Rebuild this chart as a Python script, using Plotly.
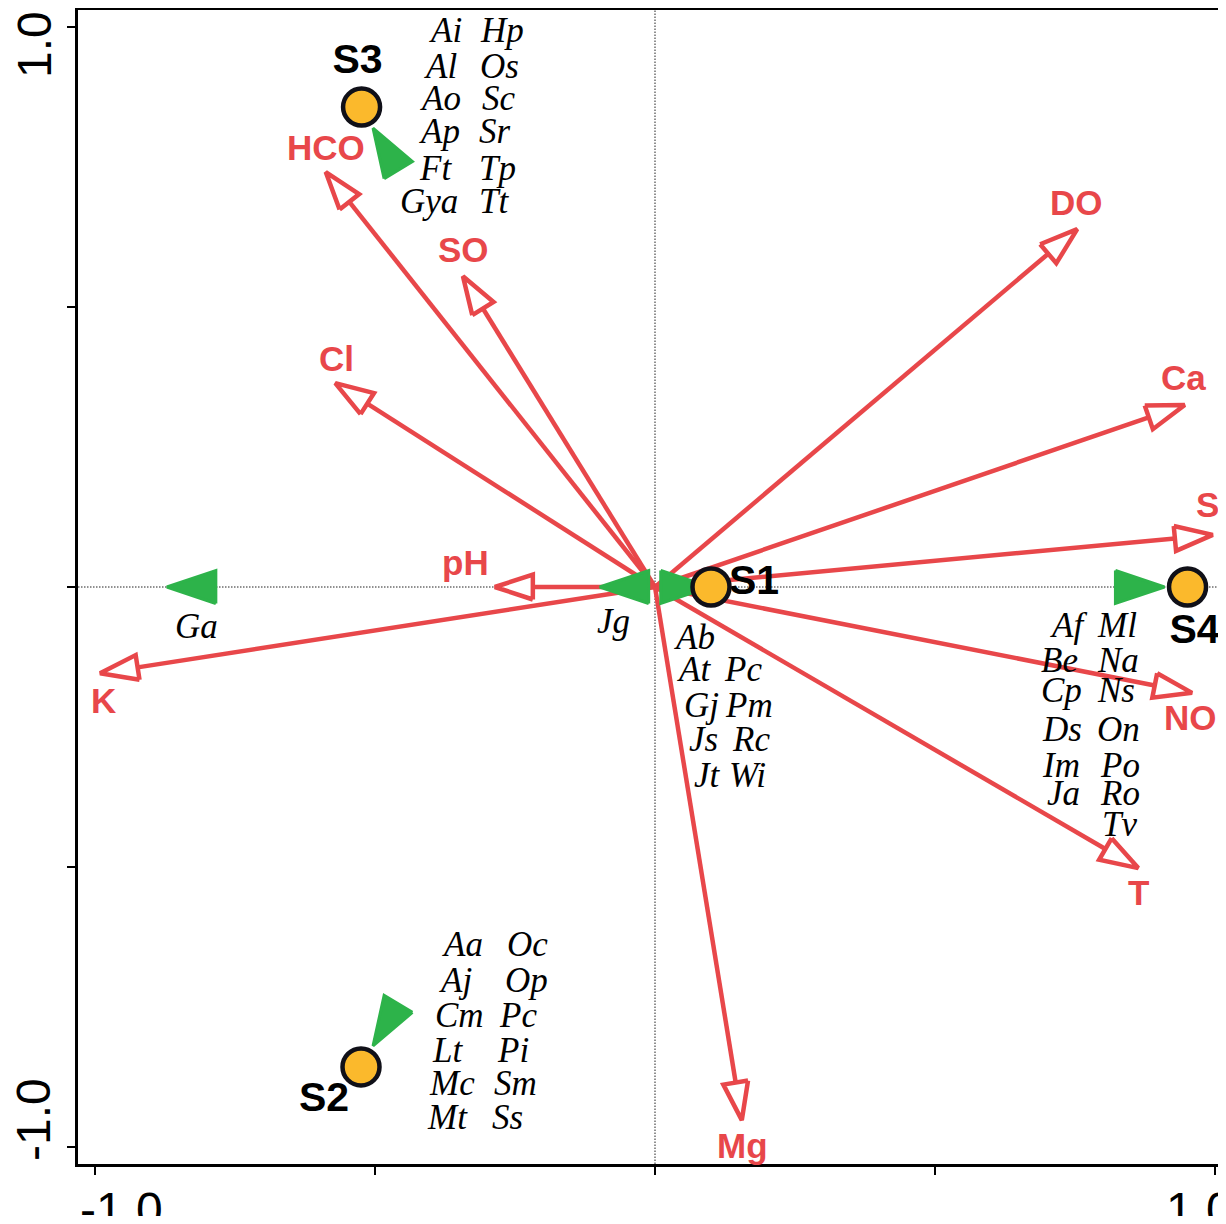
import numpy as np
import plotly.graph_objects as go

# ---------------- data ----------------
# environmental variables (biplot arrow tips)
env_names = ["HCO", "SO", "Cl", "pH", "K", "DO", "Ca", "S", "NO", "T", "Mg"]
env_x = [-0.588, -0.343, -0.571, -0.286, -0.991, 0.754, 0.946, 0.996, 0.959, 0.863, 0.155]
env_y = [0.741, 0.555, 0.364, 0.000, -0.154, 0.639, 0.325, 0.093, -0.189, -0.502, -0.952]

# sites
site_names = ["S1", "S2", "S3", "S4"]
site_x = [0.100, -0.525, -0.524, 0.951]
site_y = [0.000, -0.857, 0.857, 0.000]

# taxon-group markers (green triangles): centre and pointing direction (deg)
tri_x = [-0.828, -0.055, 0.054, 0.866, -0.481, -0.481]
tri_y = [0.000, 0.000, 0.000, 0.000, 0.782, -0.782]
tri_angle = [180, 180, 0, 0, 121, -121]

# species labels (italic), per group: left column, right column, row y
s3_left = ["Ai", "Al", "Ao", "Ap", "Ft", "Gya"]
s3_left_x = [-0.407, -0.416, -0.423, -0.425, -0.425, -0.459]
s3_right = ["Hp", "Os", "Sc", "Sr", "Tp", "Tt"]
s3_right_x = [-0.316, -0.316, -0.313, -0.318, -0.318, -0.318]
s3_row_y = [0.993, 0.930, 0.873, 0.814, 0.748, 0.689]

s1_left = ["Ab", "At", "Gj", "Js", "Jt"]
s1_left_x = [0.030, 0.036, 0.048, 0.057, 0.066]
s1_left_y = [-0.091, -0.148, -0.211, -0.273, -0.336]
s1_right = ["Pc", "Pm", "Rc", "Wi"]
s1_right_x = [0.120, 0.121, 0.134, 0.129]
s1_right_y = [-0.148, -0.211, -0.273, -0.336]

s4_left = ["Af", "Be", "Cp", "Ds", "Im", "Ja"]
s4_left_x = [0.702, 0.686, 0.686, 0.688, 0.688, 0.696]
s4_left_y = [-0.068, -0.132, -0.184, -0.255, -0.318, -0.368]
s4_right = ["Ml", "Na", "Ns", "On", "Po", "Ro", "Tv"]
s4_right_x = [0.786, 0.786, 0.786, 0.786, 0.791, 0.791, 0.795]
s4_right_y = [-0.068, -0.132, -0.184, -0.255, -0.318, -0.368, -0.425]

s2_left = ["Aa", "Aj", "Cm", "Lt", "Mc", "Mt"]
s2_left_x = [-0.384, -0.389, -0.396, -0.402, -0.407, -0.411]
s2_right = ["Oc", "Op", "Pc", "Pi", "Sm", "Ss"]
s2_right_x = [-0.268, -0.271, -0.282, -0.286, -0.291, -0.295]
s2_row_y = [-0.639, -0.702, -0.766, -0.827, -0.886, -0.948]

single_names = ["Ga", "Jg"]
single_x = [-0.861, -0.107]
single_y = [-0.070, -0.061]

tick_vals = [-1.0, -0.5, 0.0, 0.5, 1.0]
tick_text_x = ["-1.0", "1.0"]
tick_text_y = ["1.0", "-1.0"]

# ---------------- styles / label placement ----------------
RED = "#E8474A"
GREEN = "#2DB34A"
ORANGE = "#FBB92C"
PX = 560.0  # pixels per data unit (both axes)

env_label_dx = [0, 1, 1, -29, 3, -1, -1, -5, -2, 0, 1]
env_label_dy = [25, 27, 25, 25, -27, 27, 28, 30, -25, -24, -25]
site_label_dx = [43, -37, -4, 7]
site_label_dy = [3, -34, 44, -46]

fig = go.Figure()

# arrow shafts and open heads
HL, HW = 38 / PX, 12.5 / PX
shaft_x, shaft_y, head_x, head_y = [], [], [], []
for xt, yt in zip(env_x, env_y):
    a = np.arctan2(yt, xt)
    ux, uy = np.cos(a), np.sin(a)
    bx, by = xt - HL * ux, yt - HL * uy
    nx, ny = -uy, ux
    shaft_x += [0, bx, None]
    shaft_y += [0, by, None]
    head_x += [bx + HW * nx, xt, bx - HW * nx, bx + HW * nx, None]
    head_y += [by + HW * ny, yt, by - HW * ny, by + HW * ny, None]

fig.add_trace(go.Scatter(x=shaft_x, y=shaft_y, mode="lines",
                         line=dict(color=RED, width=4.5), hoverinfo="skip", showlegend=False))
fig.add_trace(go.Scatter(x=head_x, y=head_y, mode="lines", fill="toself", fillcolor="white",
                         line=dict(color=RED, width=4.5), hoverinfo="skip", showlegend=False))

# green triangles
TL, TW = 49 / PX, 16.5 / PX
tx, ty = [], []
for cx, cy, deg in zip(tri_x, tri_y, tri_angle):
    a = np.radians(deg)
    ux, uy = np.cos(a), np.sin(a)
    nx, ny = -uy, ux
    axp, ayp = cx + TL / 2 * ux, cy + TL / 2 * uy
    bx, by = cx - TL / 2 * ux, cy - TL / 2 * uy
    tx += [bx + TW * nx, axp, bx - TW * nx, bx + TW * nx, None]
    ty += [by + TW * ny, ayp, by - TW * ny, by + TW * ny, None]
fig.add_trace(go.Scatter(x=tx, y=ty, mode="lines", fill="toself", fillcolor=GREEN,
                         line=dict(color=GREEN, width=3), hoverinfo="skip", showlegend=False))

# site labels (under circles)
fig.add_trace(go.Scatter(
    x=[sx + dx / PX for sx, dx in zip(site_x, site_label_dx)],
    y=[sy + dy / PX for sy, dy in zip(site_y, site_label_dy)],
    mode="text", text=site_names, textposition="middle center",
    textfont=dict(family="Liberation Sans, Arial", size=41, color="black", weight="bold"),
    hoverinfo="skip", showlegend=False))

# site circles
fig.add_trace(go.Scatter(x=site_x, y=site_y, mode="markers",
                         marker=dict(size=37, color=ORANGE, line=dict(color="#101018", width=4.5)),
                         hoverinfo="skip", showlegend=False))

annotations = []
# environmental labels
for name, xt, yt, dx, dy in zip(env_names, env_x, env_y, env_label_dx, env_label_dy):
    annotations.append(dict(x=xt, y=yt, xref="x", yref="y", text=name, showarrow=False,
                            xshift=dx, yshift=dy, xanchor="center", yanchor="middle",
                            font=dict(family="Liberation Sans, Arial", size=35, color=RED, weight="bold")))

SPFONT = dict(family="Liberation Serif, Times New Roman", size=35, color="black", style="italic")


def add_sp(names, xs, ys):
    for n, x, y in zip(names, xs, ys):
        annotations.append(dict(x=x, y=y, xref="x", yref="y", text=n, showarrow=False,
                                xanchor="left", yanchor="middle", font=SPFONT))


add_sp(s3_left, s3_left_x, s3_row_y)
add_sp(s3_right, s3_right_x, s3_row_y)
add_sp(s1_left, s1_left_x, s1_left_y)
add_sp(s1_right, s1_right_x, s1_right_y)
add_sp(s4_left, s4_left_x, s4_left_y)
add_sp(s4_right, s4_right_x, s4_right_y)
add_sp(s2_left, s2_left_x, s2_row_y)
add_sp(s2_right, s2_right_x, s2_row_y)
add_sp(single_names, single_x, single_y)

# tick labels (placed by hand to follow the reference's offsets)
TKFONT = dict(family="Liberation Sans, Arial", size=48, color="black")
for txt, xv, xs in zip(tick_text_x, [-1.0, 1.0], [26, -15]):
    annotations.append(dict(x=xv, y=0, xref="x", yref="paper", text=txt, showarrow=False,
                            xanchor="center", yanchor="middle",
                            xshift=xs, yshift=-45, font=TKFONT))
for txt, yv, ys in zip(tick_text_y, [1.0, -1.0], [-18, 27]):
    annotations.append(dict(x=0, y=yv, xref="paper", yref="y", text=txt, showarrow=False,
                            xanchor="center", yanchor="middle",
                            xshift=-44, yshift=ys, textangle=-90, font=TKFONT))

shapes = [
    dict(type="line", xref="paper", yref="y", x0=0, x1=1, y0=0, y1=0,
         line=dict(color="#222222", width=1, dash="1.5px,1.5px"), layer="below"),
    dict(type="line", xref="x", yref="paper", x0=0, x1=0, y0=0, y1=1,
         line=dict(color="#222222", width=1, dash="1.5px,1.5px"), layer="below"),
]

axis_common = dict(showgrid=False, zeroline=False, showline=True, linecolor="black", linewidth=2.5,
                   ticks="outside", ticklen=8, tickwidth=2, tickcolor="black",
                   tickvals=tick_vals, showticklabels=False)

fig.update_layout(
    width=1210, height=1208,
    margin=dict(l=70, r=0, t=2, b=52),
    paper_bgcolor="white", plot_bgcolor="white",
    xaxis=dict(range=[-1.0304, 1.0054], mirror=True, **axis_common),
    yaxis=dict(range=[-1.0304, 1.0304], mirror=False, **axis_common),
    annotations=annotations,
    shapes=shapes,
    showlegend=False,
)

fig.write_html("out.html")
